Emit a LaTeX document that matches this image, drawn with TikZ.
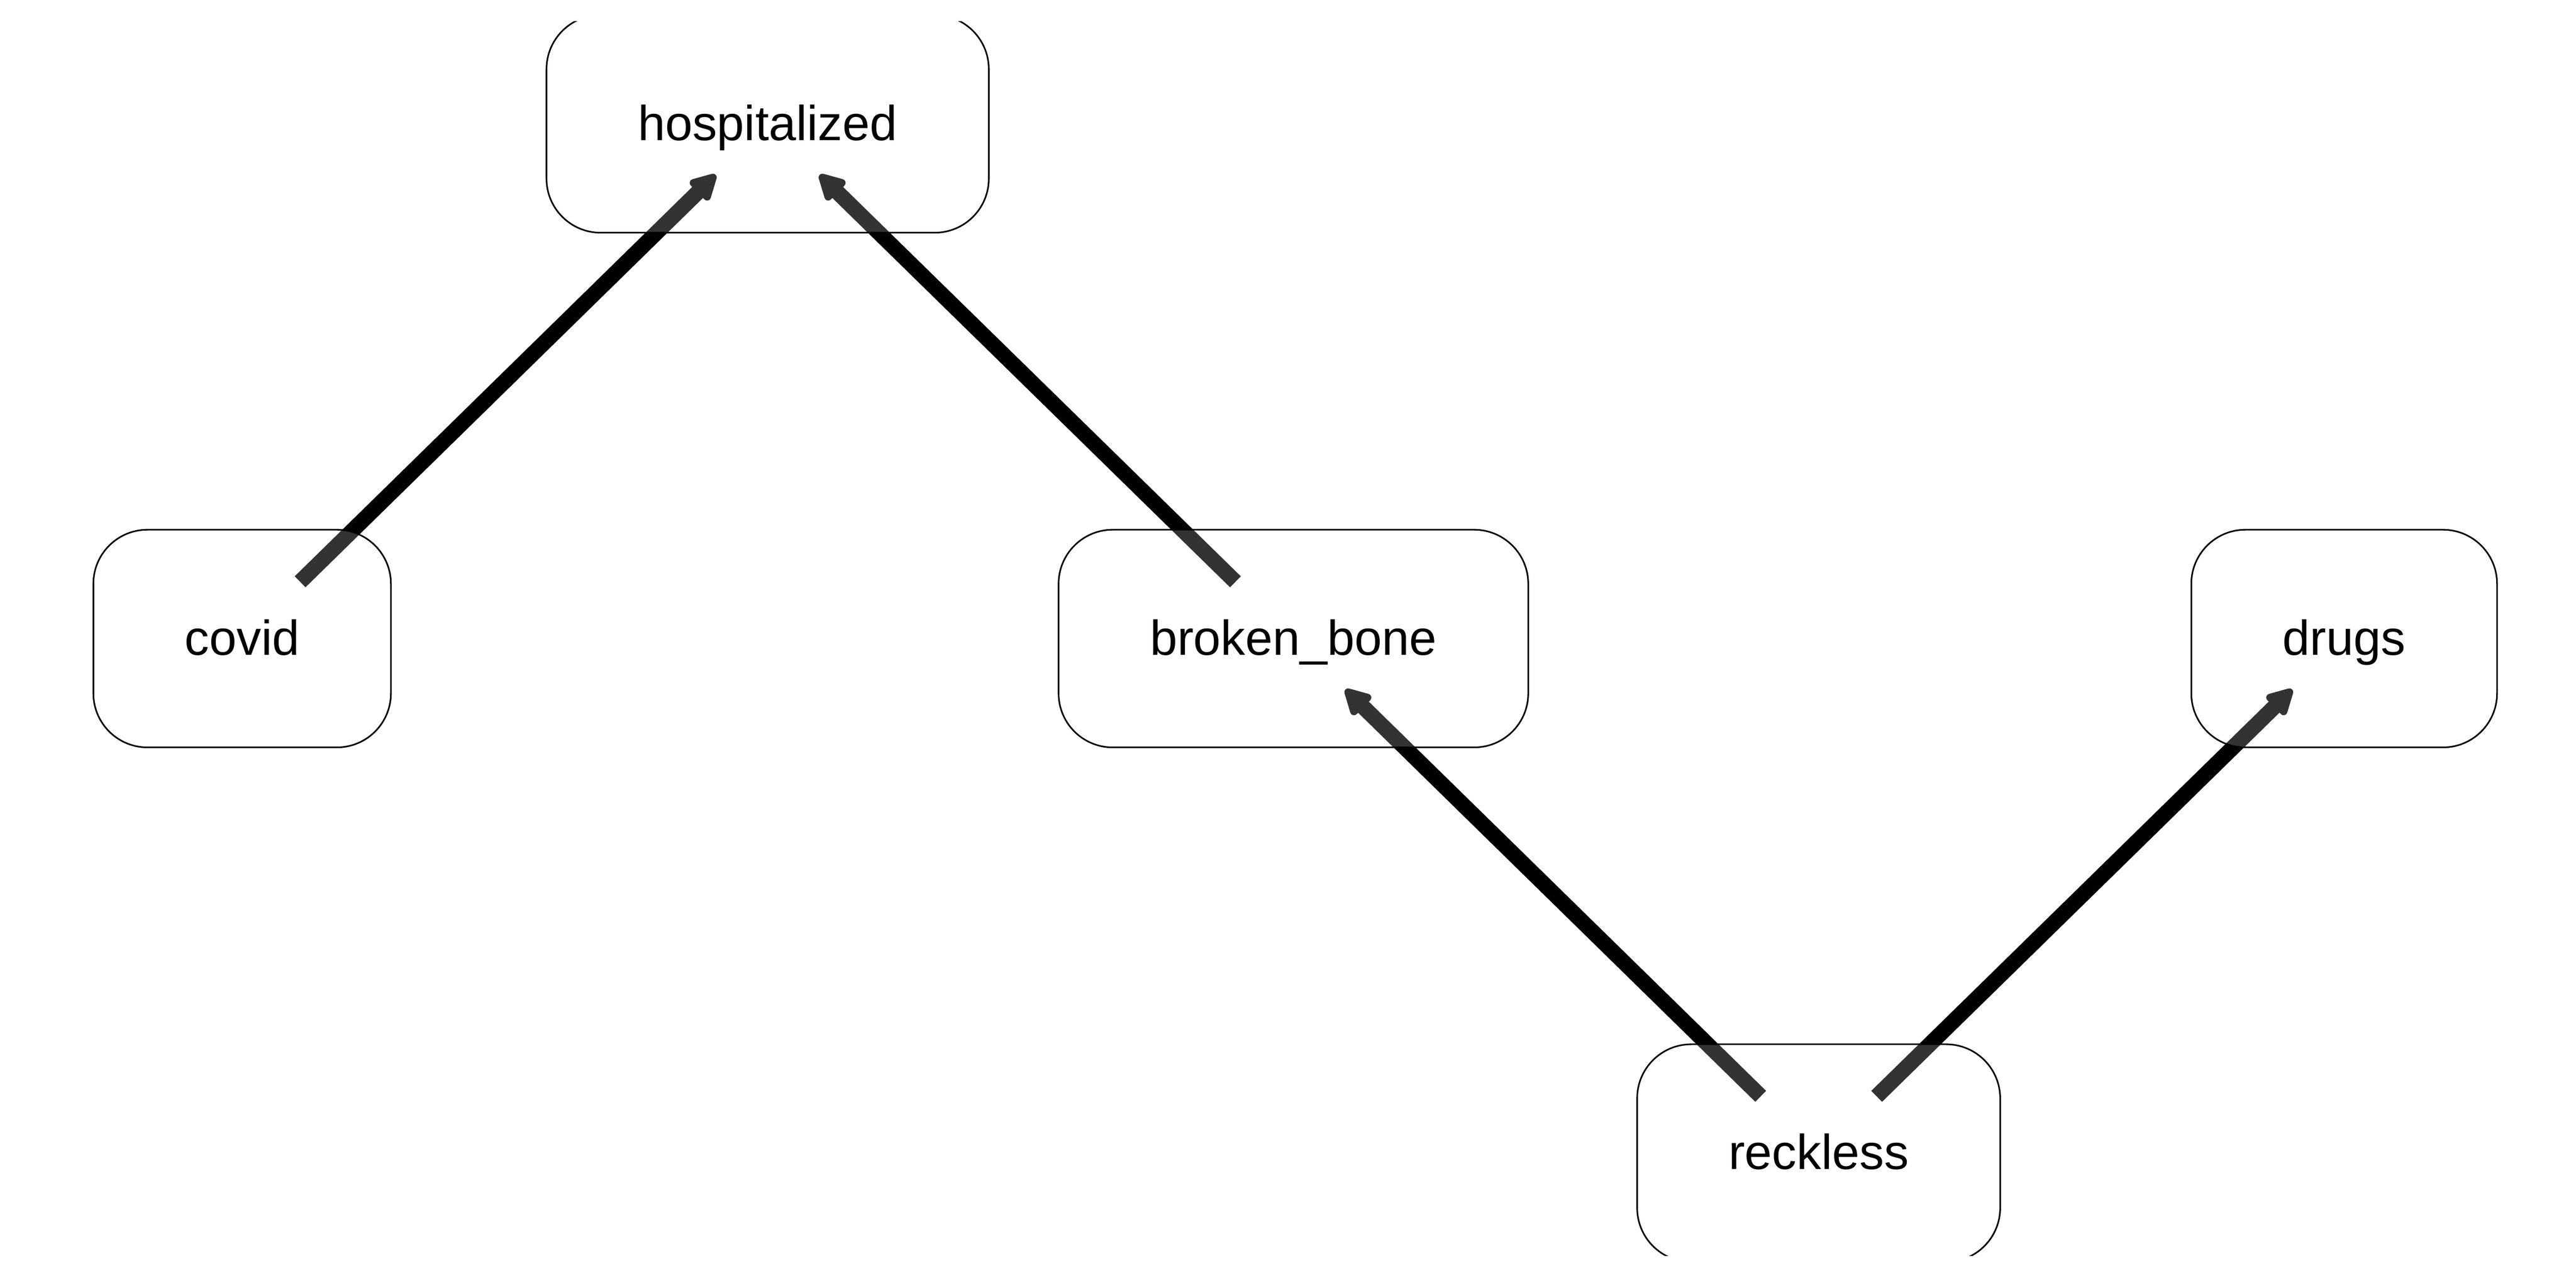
\documentclass[tikz,border=0pt]{standalone}
\usepackage{fontspec}
\setmainfont{Liberation Sans}
\usetikzlibrary{arrows.meta,backgrounds}

\begin{document}
\begin{tikzpicture}[line join=round,>={Triangle[length=6.6pt,width=6.6pt,round]},
                    var/.style={draw,line width=0.35pt,rounded corners=0.42cm,fill=white,fill opacity=0.2,text opacity=1,minimum height=1.69cm,inner xsep=0.71cm,text height=0.72em,text depth=0pt,font=\fontsize{10.85}{12}\selectfont},
                    dep/.style={->,line width=3.4pt,shorten <=0.63cm,shorten >=0.565cm}]
                    \useasboundingbox (0,0) rectangle (20,10);
                    \clip (0,0.25) rectangle (20,9.833);
                    \node[var] (hospitalized) at (5.96,9.038) {hospitalized};
                    \node[var] (covid) at (1.88,5.042) {covid};
                    \node[var] (broken_bone) at (10.042,5.042) {broken\_bone};
                    \node[var] (drugs) at (18.2,5.042) {drugs};
                    \node[var] (reckless) at (14.12,1.047) {reckless};
                    \begin{pgfonlayer}{background}
                        \draw[dep] (covid.center) -- (hospitalized.center);
                        \draw[dep] (broken_bone.center) -- (hospitalized.center);
                        \draw[dep] (reckless.center) -- (broken_bone.center);
                        \draw[dep] (reckless.center) -- (drugs.center);
                    \end{pgfonlayer}
                \end{tikzpicture}
\end{document}
